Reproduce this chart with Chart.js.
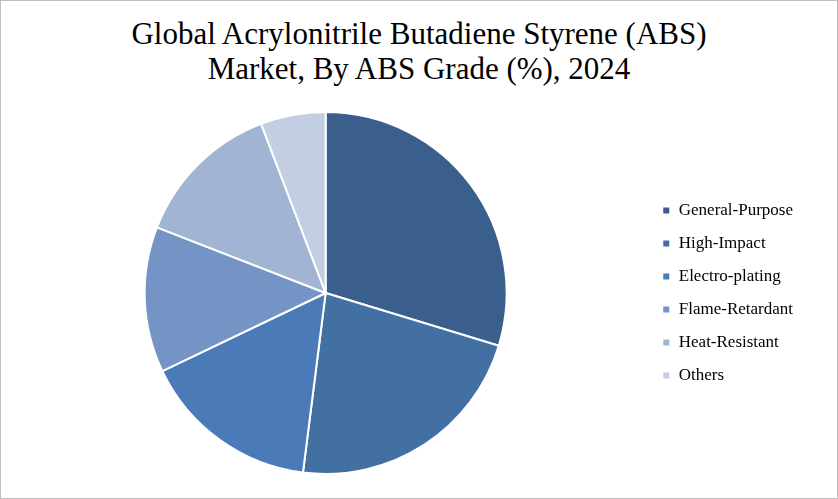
<!DOCTYPE html>
<html><head><script src="https://cdn.jsdelivr.net/npm/chart.js@4"></script>
<style>html,body{margin:0;padding:0;background:#fff}#w{position:absolute;left:0;top:0;width:836px;height:497px;border:1px solid #bfbfbf}
#t{position:absolute;left:0;top:15px;width:836px;text-align:center;font-family:'Liberation Serif';font-size:31px;line-height:35px;color:#000}
#cw{position:absolute;left:0;top:100px;width:836px;height:397px}</style></head>
<body><div id="w"><div id="t">Global Acrylonitrile Butadiene Styrene (ABS)<br>Market, By ABS Grade (%), 2024</div><div id="cw"><canvas id="c"></canvas></div></div>
<script>
const categories=["General-Purpose","High-Impact","Electro-plating","Flame-Retardant","Heat-Resistant","Others"];
const values=[29.7,22.3,15.9,13.0,13.3,5.8];
const colors=["#3B5F8C","#4270A3","#4A7BB8","#7594C6","#A2B4D4","#C3CEE3"];
new Chart(document.getElementById('c'),{type:'pie',
data:{labels:categories,datasets:[{data:values,backgroundColor:colors,borderColor:'#fff',borderWidth:2}]},
options:{responsive:true,maintainAspectRatio:false,animation:false,
layout:{padding:{left:4,right:34,top:10,bottom:23}},
plugins:{legend:{position:'right',labels:{color:'#000',boxWidth:8,boxHeight:8,padding:16,font:{family:'Liberation Serif',size:17}}},
tooltip:{enabled:false}}}});
</script></body></html>
